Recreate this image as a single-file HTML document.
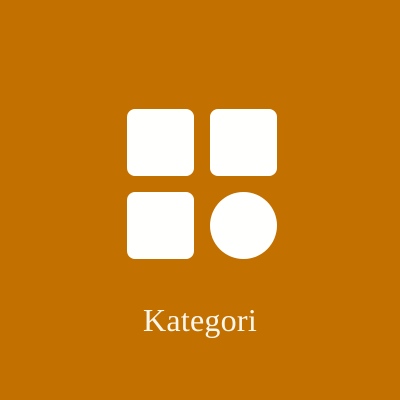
<!DOCTYPE html>
<html>
<head>
<meta charset="utf-8">
<style>
html,body{margin:0;padding:0;width:400px;height:400px;overflow:hidden;background:#c27100;}
#stage{position:relative;width:400px;height:400px;background:#c27100;}
.tile{position:absolute;width:67px;height:67px;background:#fffffd;border-radius:8px;}
#label{position:absolute;left:0;top:302px;width:400px;text-align:center;font-family:"Liberation Serif",serif;font-size:32px;letter-spacing:0.25px;line-height:37px;color:#fdf6ec;white-space:nowrap;}
</style>
</head>
<body>
<div id="stage">
  <div class="tile" style="left:127px;top:109px"></div>
  <div class="tile" style="left:210px;top:109px"></div>
  <div class="tile" style="left:127px;top:192px"></div>
  <div class="tile" style="left:210px;top:192px;border-radius:50%"></div>
  <div id="label">Kategori</div>
</div>
</body>
</html>
